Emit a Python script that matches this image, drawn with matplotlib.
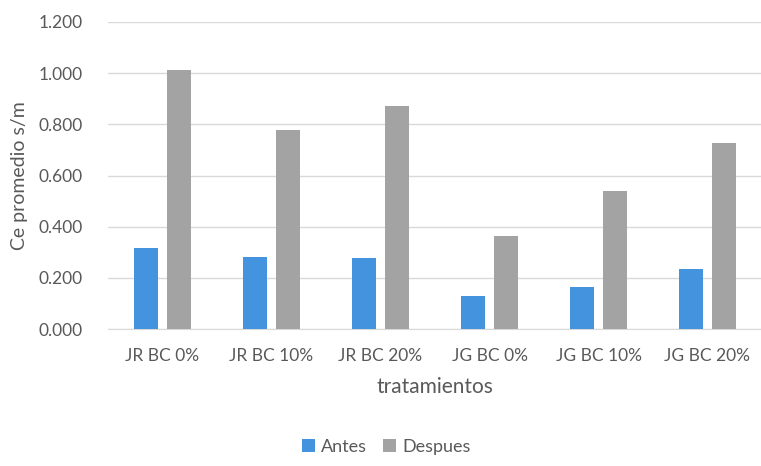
import matplotlib.pyplot as plt
import numpy as np

plt.rcParams['font.family'] = ['Lato', 'DejaVu Sans']

categorias = ["JR BC 0%", "JR BC 10%", "JR BC 20%", "JG BC 0%", "JG BC 10%", "JG BC 20%"]
antes = [0.316, 0.280, 0.276, 0.129, 0.165, 0.233]
despues = [1.011, 0.777, 0.872, 0.362, 0.539, 0.727]

txt = '#595959'
fig = plt.figure(figsize=(7.61, 4.66), dpi=100)
ax = fig.add_axes([108/761, 1 - 329/466, 654/761, (329 - 22)/466])

x = np.arange(len(categorias))
w = 0.22
ax.bar(x - 0.147, antes, w, color='#4393DF', label='Antes', zorder=3)
ax.bar(x + 0.147, despues, w, color='#A3A3A3', label='Despues', zorder=3)

ax.set_xlim(-0.5, len(categorias) - 0.5)
ax.set_ylim(0, 1.2)
ax.set_yticks(np.arange(0, 1.21, 0.2))
ax.set_yticklabels([f"{v:.3f}" for v in np.arange(0, 1.21, 0.2)])
ax.set_xticks(x)
ax.set_xticklabels(categorias)
ax.tick_params(axis='both', length=0, labelsize=12.5, colors=txt)
ax.tick_params(axis='y', pad=18)
ax.tick_params(axis='x', pad=14)
ax.yaxis.grid(True, color='#D9D9D9', linewidth=1, zorder=0)
for s in ['top', 'right', 'left']:
    ax.spines[s].set_visible(False)
ax.spines['bottom'].set_color('#D9D9D9')

ax.set_ylabel("Ce promedio s/m", fontsize=14, color=txt, labelpad=8)
ax.set_xlabel("tratamientos", fontsize=15, color=txt, labelpad=9)

fig.legend(loc='center', bbox_to_anchor=(386/761, 1 - 447/466), ncol=2, frameon=False,
           fontsize=13, labelcolor=txt, handlelength=0.75, handleheight=0.75,
           handletextpad=0.3, columnspacing=0.9)

fig.savefig('out.png', dpi=100)
